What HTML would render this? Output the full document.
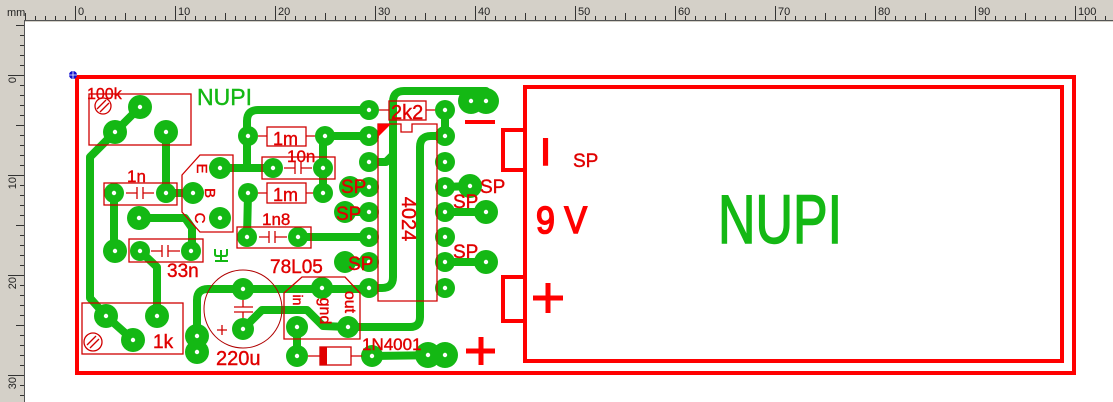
<!DOCTYPE html>
<html><head><meta charset="utf-8"><style>
html,body{margin:0;padding:0;background:#fff;}
svg{display:block;}
text{font-family:"Liberation Sans",Arial,sans-serif;}
</style></head><body>
<svg width="1113" height="402" viewBox="0 0 1113 402" xmlns="http://www.w3.org/2000/svg">
<defs>
<pattern id="ts" x="75" y="0" width="10" height="402" patternUnits="userSpaceOnUse"><rect x="0" y="0" width="1" height="402" fill="#333"/></pattern>
<pattern id="tm" x="75" y="0" width="50" height="402" patternUnits="userSpaceOnUse"><rect x="0" y="0" width="1" height="402" fill="#333"/></pattern>
<pattern id="tl" x="75" y="0" width="100" height="402" patternUnits="userSpaceOnUse"><rect x="0" y="0" width="1" height="402" fill="#333"/></pattern>
<pattern id="vs" x="0" y="75" width="30" height="10" patternUnits="userSpaceOnUse"><rect x="0" y="0" width="30" height="1" fill="#333"/></pattern>
<pattern id="vm" x="0" y="75" width="30" height="50" patternUnits="userSpaceOnUse"><rect x="0" y="0" width="30" height="1" fill="#333"/></pattern>
<pattern id="vl" x="0" y="75" width="30" height="100" patternUnits="userSpaceOnUse"><rect x="0" y="0" width="30" height="1" fill="#333"/></pattern>
</defs>

<!-- rulers -->
<rect x="0" y="0" width="1113" height="402" fill="#d4d0c8"/>
<rect x="25" y="22" width="1088" height="380" fill="#fff"/>
<rect x="25" y="16" width="1088" height="4" fill="url(#ts)"/>
<rect x="25" y="13" width="1088" height="7" fill="url(#tm)"/>
<rect x="25" y="6" width="1088" height="14" fill="url(#tl)"/>
<rect x="20" y="22" width="4" height="380" fill="url(#vs)"/>
<rect x="16" y="22" width="8" height="380" fill="url(#vm)"/>
<rect x="8" y="22" width="16" height="380" fill="url(#vl)"/>
<line x1="24" y1="20.5" x2="1113" y2="20.5" stroke="#555" stroke-width="1"/>
<line x1="24.5" y1="20" x2="24.5" y2="402" stroke="#555" stroke-width="1"/>
<g font-size="11" fill="#222">
<text x="7" y="16">mm</text>
<text x="78" y="15">0</text><text x="178" y="15">10</text><text x="278" y="15">20</text><text x="378" y="15">30</text><text x="478" y="15">40</text><text x="578" y="15">50</text><text x="678" y="15">60</text><text x="778" y="15">70</text><text x="878" y="15">80</text><text x="978" y="15">90</text><text x="1078" y="15">100</text>
<text transform="translate(16,77) rotate(-90)" text-anchor="end">0</text>
<text transform="translate(16,177) rotate(-90)" text-anchor="end">10</text>
<text transform="translate(16,277) rotate(-90)" text-anchor="end">20</text>
<text transform="translate(16,377) rotate(-90)" text-anchor="end">30</text>
</g>

<!-- board outline -->
<rect x="77" y="77" width="997" height="296" fill="none" stroke="#f00" stroke-width="4"/>
<!-- battery -->
<rect x="525" y="87" width="537" height="274" fill="none" stroke="#f00" stroke-width="4"/>
<rect x="503" y="130" width="22" height="40" fill="none" stroke="#f00" stroke-width="4"/>
<rect x="503" y="277" width="22" height="44" fill="none" stroke="#f00" stroke-width="4"/>

<!-- traces -->
<g fill="none" stroke="#14b814" stroke-width="8" stroke-linecap="round" stroke-linejoin="round">
<path d="M369 110 L258 110 Q247 110 247 121 L247 168"/>
<path d="M220 168 L273 168"/>
<path d="M323 136 L369 136"/>
<path d="M323 136 L323 193"/>
<path d="M166 132 L166 193 L193 193"/>
<path d="M140 107 L115 132 L90 157 L90 298 L106 316 L133 340"/>
<path d="M114 193 L114 251"/>
<path d="M139 218 L185 218 L192 228 L192 251"/>
<path d="M140 251 L157 267 L157 316"/>
<path d="M248 193 L247 237"/>
<path d="M298 237 L369 237"/>
<path d="M369 162 L386 162 L393 155"/>
<path d="M486 91 L404 91 Q393 91 393 102 L393 277 Q393 288 382 288 L369 288"/>
<path d="M197 345 L197 300 Q197 289 208 289 L369 289"/>
<path d="M243 329 L262 310 L307 310 L323 326 L348 327 L410 327 Q420 327 420 317 L420 147 Q420 136 431 136 L445 136"/>
<path d="M445 110 L445 136"/>
<path d="M445 187 L470 186"/>
<path d="M445 212 L486 212"/>
<path d="M445 262 L486 262"/>
<path d="M350 187 L369 187"/>
<path d="M345 212 L369 212"/>
<path d="M345 262 L369 262"/>
<path d="M297 327 L297 356"/>
<path d="M372 356 L445 355"/>
</g>

<!-- pads -->
<g fill="#14b814">
<circle cx="140" cy="107" r="12"/><circle cx="115" cy="132" r="12"/><circle cx="166" cy="132" r="12"/>
<circle cx="114" cy="193" r="10"/><circle cx="166" cy="193" r="10"/>
<circle cx="220" cy="168" r="11"/><circle cx="193" cy="193" r="11"/><circle cx="220" cy="218" r="11"/>
<circle cx="139" cy="218" r="12"/>
<circle cx="140" cy="251" r="10"/><circle cx="191" cy="251" r="10"/><circle cx="115" cy="251" r="12"/>
<circle cx="106" cy="316" r="12"/><circle cx="133" cy="340" r="12"/><circle cx="157" cy="316" r="12"/>
<circle cx="248" cy="136" r="10"/><circle cx="325" cy="136" r="10"/>
<circle cx="273" cy="168" r="10"/><circle cx="323" cy="168" r="10"/>
<circle cx="248" cy="193" r="10"/><circle cx="323" cy="193" r="10"/>
<circle cx="247" cy="237" r="10"/><circle cx="298" cy="237" r="10"/>
<circle cx="369" cy="110" r="10"/><circle cx="445" cy="110" r="10"/>
<circle cx="369" cy="136" r="10"/><circle cx="369" cy="162" r="10"/><circle cx="369" cy="187" r="10"/><circle cx="369" cy="212" r="10"/><circle cx="369" cy="237" r="10"/><circle cx="369" cy="262" r="10"/><circle cx="369" cy="288" r="10"/>
<circle cx="445" cy="136" r="10"/><circle cx="445" cy="162" r="10"/><circle cx="445" cy="187" r="10"/><circle cx="445" cy="212" r="10"/><circle cx="445" cy="237" r="10"/><circle cx="445" cy="262" r="10"/><circle cx="445" cy="288" r="10"/>
<circle cx="350" cy="187" r="11"/><circle cx="345" cy="212" r="11"/><circle cx="345" cy="262" r="11"/>
<circle cx="470" cy="186" r="12"/><circle cx="486" cy="212" r="12"/><circle cx="486" cy="262" r="12"/>
<circle cx="243" cy="289" r="11"/><circle cx="243" cy="329" r="11"/>
<circle cx="197" cy="336" r="12"/><circle cx="197" cy="352" r="12"/>
<circle cx="322" cy="288" r="11"/><circle cx="297" cy="327" r="11"/><circle cx="348" cy="327" r="11"/>
<circle cx="297" cy="356" r="11"/><circle cx="372" cy="356" r="11"/>
<circle cx="428" cy="355" r="13"/><circle cx="445" cy="355" r="13"/>
<circle cx="471" cy="101" r="13"/><circle cx="486" cy="101" r="13"/>
</g>
<g fill="#fff">
<circle cx="140" cy="107" r="2.2"/><circle cx="115" cy="132" r="2.2"/><circle cx="166" cy="132" r="2.2"/>
<circle cx="114" cy="193" r="2.2"/><circle cx="166" cy="193" r="2.2"/>
<circle cx="220" cy="168" r="2.2"/><circle cx="193" cy="193" r="2.2"/><circle cx="220" cy="218" r="2.2"/>
<circle cx="139" cy="218" r="2.2"/>
<circle cx="140" cy="251" r="2.2"/><circle cx="191" cy="251" r="2.2"/><circle cx="115" cy="251" r="2.2"/>
<circle cx="106" cy="316" r="2.2"/><circle cx="133" cy="340" r="2.2"/><circle cx="157" cy="316" r="2.2"/>
<circle cx="248" cy="136" r="2.2"/><circle cx="325" cy="136" r="2.2"/>
<circle cx="273" cy="168" r="2.2"/><circle cx="323" cy="168" r="2.2"/>
<circle cx="248" cy="193" r="2.2"/><circle cx="323" cy="193" r="2.2"/>
<circle cx="247" cy="237" r="2.2"/><circle cx="298" cy="237" r="2.2"/>
<circle cx="369" cy="110" r="2.2"/><circle cx="445" cy="110" r="2.2"/>
<circle cx="369" cy="136" r="2.2"/><circle cx="369" cy="162" r="2.2"/><circle cx="369" cy="187" r="2.2"/><circle cx="369" cy="212" r="2.2"/><circle cx="369" cy="237" r="2.2"/><circle cx="369" cy="262" r="2.2"/><circle cx="369" cy="288" r="2.2"/>
<circle cx="445" cy="136" r="2.2"/><circle cx="445" cy="162" r="2.2"/><circle cx="445" cy="187" r="2.2"/><circle cx="445" cy="212" r="2.2"/><circle cx="445" cy="237" r="2.2"/><circle cx="445" cy="262" r="2.2"/><circle cx="445" cy="288" r="2.2"/>
<circle cx="470" cy="186" r="2.2"/><circle cx="486" cy="212" r="2.2"/><circle cx="486" cy="262" r="2.2"/>
<circle cx="243" cy="289" r="2.2"/><circle cx="243" cy="329" r="2.2"/>
<circle cx="197" cy="336" r="2.2"/><circle cx="197" cy="352" r="2.2"/>
<circle cx="322" cy="288" r="2.2"/><circle cx="297" cy="327" r="2.2"/><circle cx="348" cy="327" r="2.2"/>
<circle cx="297" cy="356" r="2.2"/><circle cx="372" cy="356" r="2.2"/>
<circle cx="428" cy="355" r="2.2"/><circle cx="445" cy="355" r="2.2"/>
<circle cx="471" cy="101" r="2.2"/><circle cx="486" cy="101" r="2.2"/>
</g>

<!-- component outlines -->
<g fill="none" stroke="#d00000" stroke-width="1.3">
<rect x="89" y="94" width="102" height="51"/>
<rect x="82" y="303" width="101" height="51"/>
<circle cx="103" cy="106" r="8"/>
<line x1="97" y1="109" x2="106" y2="100"/><line x1="100" y1="112" x2="109" y2="103"/>
<circle cx="93" cy="342" r="9"/>
<line x1="87" y1="345" x2="96" y2="336"/><line x1="90" y1="348" x2="99" y2="339"/>
<rect x="104" y="183" width="73" height="22"/>
<path d="M126 193 H137 M137 187 V199 M143 187 V199 M143 193 H154"/>
<rect x="262" y="157" width="73" height="22"/>
<path d="M284 168 H295 M295 162 V174 M301 162 V174 M301 168 H312"/>
<rect x="129" y="239" width="74" height="23"/>
<path d="M151 251 H162 M162 245 V257 M168 245 V257 M168 251 H180"/>
<rect x="237" y="227" width="74" height="21"/>
<path d="M259 237 H269 M269 231 V243 M275 231 V243 M275 237 H287"/>
<rect x="267" y="127" width="39" height="19"/>
<path d="M258 136 H267 M306 136 H315"/>
<rect x="267" y="183" width="39" height="20"/>
<path d="M258 193 H267 M306 193 H313"/>
<rect x="389" y="101" width="37" height="19"/>
<path d="M379 110 H389 M426 110 H435"/>
<path d="M182 175 L200 155 L233 155 L233 232 L200 232 L182 212 Z"/>
<path d="M378 124 H401 V132 H412 V124 H437 V301 H378 Z"/>
<circle cx="243" cy="309" r="39" stroke="#b00000" stroke-width="1"/>
<path d="M243 300 V307 M234 307 H253 M234 312 H253 M243 312 V318"/>
<path d="M217 330 H227 M222 325 V335"/>
<path d="M284 293 L302 277 L345 277 L360 293 L360 339 L284 339 Z"/>
<rect x="320" y="347" width="31" height="18"/>
<path d="M308 356 H320 M351 356 H362"/>
</g>
<path d="M378 124 H391 L378 137 Z" fill="#f00"/>
<rect x="320" y="347" width="7" height="18" fill="#e00000"/>

<!-- battery markings -->
<g stroke="#f00" stroke-width="5">
<line x1="533" y1="298" x2="563" y2="298"/><line x1="548" y1="283" x2="548" y2="313"/>
<line x1="466" y1="351" x2="495" y2="351"/><line x1="481" y1="337" x2="481" y2="365"/>
<line x1="465" y1="122" x2="495" y2="122" stroke-width="4"/>
</g>

<!-- green mark -->
<g fill="none" stroke="#14b814" stroke-width="2">
<path d="M215 261 H228 M221 250 V261 M215 249 V254 Q215 256 217 256 H225 Q227 256 227 254 V249"/>
</g>

<!-- texts -->
<g fill="#e00000" stroke="#e00000" stroke-width="0.4">
<text x="87" y="99" font-size="16">100k</text>
<text x="127" y="182" font-size="17">1n</text>
<text x="273" y="145" font-size="18">1m</text>
<text x="273" y="201" font-size="18">1m</text>
<text x="287" y="162" font-size="17">10n</text>
<text x="262" y="225" font-size="17">1n8</text>
<text x="167" y="277" font-size="19">33n</text>
<text x="153" y="348" font-size="19">1k</text>
<text x="216" y="365" font-size="20">220u</text>
<text x="270" y="273" font-size="19">78L05</text>
<text x="362" y="350" font-size="17">1N4001</text>
<text x="391" y="119" font-size="20">2k2</text>
<text transform="translate(402,219) rotate(90)" text-anchor="middle" font-size="20">4024</text>
<text transform="translate(197,168.5) rotate(90)" text-anchor="middle" font-size="15">E</text>
<text transform="translate(205,193) rotate(90)" text-anchor="middle" font-size="15">B</text>
<text transform="translate(195,218) rotate(90)" text-anchor="middle" font-size="15">C</text>
<text transform="translate(293,300) rotate(90)" text-anchor="middle" font-size="14">in</text>
<text transform="translate(320,311) rotate(90)" text-anchor="middle" font-size="16">gnd</text>
<text transform="translate(345,302) rotate(90)" text-anchor="middle" font-size="16">out</text>
<text x="341" y="193" font-size="19">SP</text>
<text x="336" y="220" font-size="19">SP</text>
<text x="348" y="270" font-size="19">SP</text>
<text x="480" y="193" font-size="19">SP</text>
<text x="453" y="208" font-size="19">SP</text>
<text x="453" y="258" font-size="19">SP</text>
<text x="573" y="167" font-size="19">SP</text>
</g>
<g fill="#f00" stroke="#f00" stroke-width="1.6">
<text x="545.5" y="165" font-size="38" text-anchor="middle">I</text>
<text x="536" y="233" font-size="38" textLength="51" lengthAdjust="spacingAndGlyphs">9 V</text>
</g>
<text x="197" y="105" font-size="23" fill="#14b814" stroke="#14b814" stroke-width="0.4" textLength="55" lengthAdjust="spacingAndGlyphs">NUPI</text>
<text x="718" y="243" font-size="69" fill="#14b814" stroke="#14b814" stroke-width="1.5" textLength="124" lengthAdjust="spacingAndGlyphs">NUPI</text>

<!-- origin marker -->
<circle cx="73" cy="75" r="4" fill="#1010d0"/>
<path d="M69 75 H77 M73 71 V79" stroke="#fff" stroke-width="0.8"/>
</svg>
</body></html>
